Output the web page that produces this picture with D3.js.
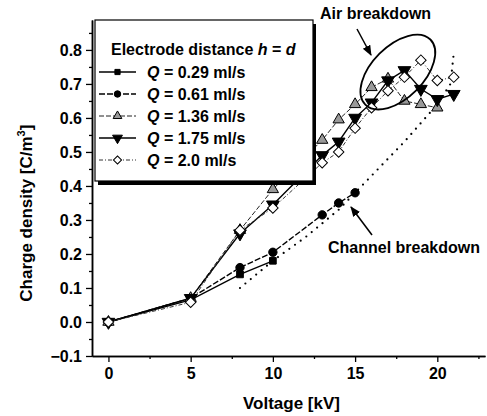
<!DOCTYPE html>
<html>
<head>
<meta charset="utf-8">
<script src="https://cdn.jsdelivr.net/npm/d3@7/dist/d3.min.js"></script>
<style>
  body { margin: 0; background: #fff; }
  text { font-family: "Liberation Sans", Arial, sans-serif; font-weight: bold; fill: #000; }
</style>
</head>
<body>
<div id="chart"></div>
<script>
//************************************************************************
// data
//************************************************************************
var xTicks = [0, 5, 10, 15, 20];
var yTicks = [-0.1, 0.0, 0.1, 0.2, 0.3, 0.4, 0.5, 0.6, 0.7, 0.8];

var q029Volt = [0, 5, 8, 10];
var q029Rho  = [0, 0.065, 0.14, 0.18];

var q061Volt = [0, 5, 8, 10, 13, 14, 15];
var q061Rho  = [0, 0.07, 0.16, 0.205, 0.315, 0.35, 0.38];

var q136Volt = [0, 5, 8, 10, 13, 14, 15, 16, 17, 18, 19, 20];
var q136Rho  = [0, 0.07, 0.27, 0.39, 0.535, 0.595, 0.64, 0.69, 0.715, 0.65, 0.64, 0.63];

var q175Volt = [0, 5, 8, 10, 13, 14, 15, 16, 17, 18, 19, 20, 21];
var q175Rho  = [0, 0.07, 0.26, 0.345, 0.49, 0.53, 0.60, 0.645, 0.71, 0.74, 0.685, 0.655, 0.67];

var q20Volt = [0, 5, 8, 10, 13, 14, 15, 16, 17, 18, 19, 20, 21];
var q20Rho  = [0, 0.058, 0.27, 0.335, 0.468, 0.50, 0.57, 0.63, 0.68, 0.72, 0.77, 0.71, 0.72];

// dotted guide line (no markers)
var guideVolt = [8, 10, 12, 13, 14, 15, 16, 17, 18, 19, 20, 20.8, 21];
var guideRho  = [0.10, 0.18, 0.25, 0.29, 0.33, 0.38, 0.43, 0.48, 0.53, 0.585, 0.64, 0.70, 0.79];

var seriesNames = ["0.29 ml/s", "0.61 ml/s", "1.36 ml/s", "1.75 ml/s", "2.0 ml/s"];

//************************************************************************
// svg + scales
//************************************************************************
var svgWidth = 487;
var svgHeight = 416;

var svg = d3.select("#chart")
  .append("svg")
  .attr("width", svgWidth)
  .attr("height", svgHeight);

var x = d3.scaleLinear().domain([-1, 22.9]).range([92, 485]);
var y = d3.scaleLinear().domain([-0.1, 0.888]).range([356, 20]);

function zip(xs, ys) { return xs.map((v, i) => [v, ys[i]]); }

var styles = [
  { data: zip(q029Volt, q029Rho), symbol: d3.symbolSquare, size: 45, fill: "#000", dash: null, width: 1.4, lineColor: "#000", rot: 0 },
  { data: zip(q061Volt, q061Rho), symbol: d3.symbolCircle, size: 55, fill: "#000", dash: "6,2", width: 1.4, lineColor: "#000", rot: 0 },
  { data: zip(q136Volt, q136Rho), symbol: d3.symbolTriangle, size: 55, fill: "#999", dash: "5,2", width: 1, lineColor: "#222", rot: 0 },
  { data: zip(q175Volt, q175Rho), symbol: d3.symbolTriangle, size: 70, fill: "#000", dash: null, width: 1.4, lineColor: "#000", rot: 180 },
  { data: zip(q20Volt, q20Rho), symbol: d3.symbolSquare, size: 55, fill: "#fff", dash: "4,2,1,2", width: 1, lineColor: "#333", rot: 45 }
];

//************************************************************************
// axes
//************************************************************************
var xAxis = svg.append("g")
  .attr("transform", `translate(0, ${y(-0.1)})`)
  .call(d3.axisBottom(x).tickValues(xTicks).tickSize(6).tickSizeOuter(0).tickPadding(6));
xAxis.selectAll("text").style("font-size", "16px");

svg.append("g")
  .attr("transform", `translate(0, ${y(-0.1)})`)
  .call(d3.axisBottom(x).tickValues([2.5, 7.5, 12.5, 17.5, 22.5]).tickSize(3).tickFormat("").tickSizeOuter(0));

var yAxis = svg.append("g")
  .attr("transform", `translate(${x(-1)}, 0)`)
  .call(d3.axisLeft(y).tickValues(yTicks).tickSize(6).tickSizeOuter(0).tickPadding(4).tickFormat(d3.format(".1f")));
yAxis.selectAll("text").style("font-size", "16px");

svg.append("g")
  .attr("transform", `translate(${x(-1)}, 0)`)
  .call(d3.axisLeft(y).tickValues(d3.range(-0.05, 0.86, 0.1)).tickSize(3).tickFormat("").tickSizeOuter(0));

svg.selectAll(".domain").attr("stroke-width", 1.5);
svg.selectAll(".tick line").attr("stroke-width", 1.3);

svg.append("text")
  .attr("x", (x(-1) + x(22.9)) / 2 + 3)
  .attr("y", 409)
  .attr("text-anchor", "middle")
  .style("font-size", "17px")
  .text("Voltage [kV]");

var yTitle = svg.append("text")
  .attr("transform", `translate(32, ${y(0.32)}) rotate(-90)`)
  .attr("text-anchor", "middle")
  .style("font-size", "17px");
yTitle.append("tspan").text("Charge density [C/m");
yTitle.append("tspan").attr("dy", -7).style("font-size", "11px").text("3");
yTitle.append("tspan").attr("dy", 7).text("]");

//************************************************************************
// lines + markers
//************************************************************************
var line = d3.line().x(d => x(d[0])).y(d => y(d[1]));

svg.append("path")
  .attr("d", line(zip(guideVolt, guideRho)))
  .attr("fill", "none")
  .attr("stroke", "#000")
  .attr("stroke-width", 2.2)
  .attr("stroke-linecap", "round")
  .attr("stroke-dasharray", "0,7");

styles.forEach(s => {
  svg.append("path")
    .attr("d", line(s.data))
    .attr("fill", "none")
    .attr("stroke", s.lineColor)
    .attr("stroke-width", s.width)
    .attr("stroke-dasharray", s.dash);
});

styles.forEach(s => {
  svg.append("g").selectAll("path")
    .data(s.data)
    .join("path")
    .attr("d", d3.symbol().type(s.symbol).size(s.size))
    .attr("transform", d => `translate(${x(d[0])}, ${y(d[1])}) rotate(${s.rot})`)
    .attr("fill", s.fill)
    .attr("stroke", "#000")
    .attr("stroke-width", 1);
});

//************************************************************************
// legend box
//************************************************************************
var legend = svg.append("g");
legend.append("rect").attr("x", 98).attr("y", 24).attr("width", 218).attr("height", 161).attr("fill", "#000");
legend.append("rect").attr("x", 95).attr("y", 20).attr("width", 218).attr("height", 161)
  .attr("fill", "#fff").attr("stroke", "#000").attr("stroke-width", 1.2);

var title = legend.append("text").attr("x", 111).attr("y", 55).style("font-size", "16px");
title.append("tspan").text("Electrode distance ");
title.append("tspan").style("font-style", "italic").text("h");
title.append("tspan").text(" = ");
title.append("tspan").style("font-style", "italic").text("d");

styles.forEach((s, i) => {
  var ry = 72 + i * 22;
  legend.append("line")
    .attr("x1", 99).attr("x2", 136).attr("y1", ry).attr("y2", ry)
    .attr("stroke", s.lineColor).attr("stroke-width", s.width)
    .attr("stroke-dasharray", s.dash);
  legend.append("path")
    .attr("d", d3.symbol().type(s.symbol).size(s.size * 0.6))
    .attr("transform", `translate(117.5, ${ry}) rotate(${s.rot})`)
    .attr("fill", s.fill).attr("stroke", "#000").attr("stroke-width", 1);
  var t = legend.append("text").attr("x", 147).attr("y", ry + 6).style("font-size", "16px");
  t.append("tspan").style("font-style", "italic").text("Q");
  t.append("tspan").text(" = " + seriesNames[i]);
});

//************************************************************************
// annotations
//************************************************************************
svg.append("defs").append("marker")
  .attr("id", "arrow")
  .attr("viewBox", "0 0 10 10")
  .attr("refX", 9).attr("refY", 5)
  .attr("markerWidth", 7).attr("markerHeight", 7)
  .attr("orient", "auto")
  .append("path").attr("d", "M0,1 L10,5 L0,9 Z").attr("fill", "#000");

svg.append("ellipse")
  .attr("cx", 0).attr("cy", 0).attr("rx", 46).attr("ry", 26)
  .attr("transform", `translate(${x(17.6)}, ${y(0.735)}) rotate(-45)`)
  .attr("fill", "none").attr("stroke", "#000").attr("stroke-width", 1.8);

svg.append("text").attr("x", 320).attr("y", 19).style("font-size", "16px").text("Air breakdown");
svg.append("line")
  .attr("x1", 357).attr("y1", 29).attr("x2", 371).attr("y2", 55)
  .attr("stroke", "#000").attr("stroke-width", 1.5).attr("marker-end", "url(#arrow)");

svg.append("text").attr("x", 328).attr("y", 253).style("font-size", "16px").text("Channel breakdown");
svg.append("line")
  .attr("x1", 372).attr("y1", 235).attr("x2", 351).attr("y2", 207)
  .attr("stroke", "#000").attr("stroke-width", 1.5).attr("marker-end", "url(#arrow)");
</script>
</body>
</html>
